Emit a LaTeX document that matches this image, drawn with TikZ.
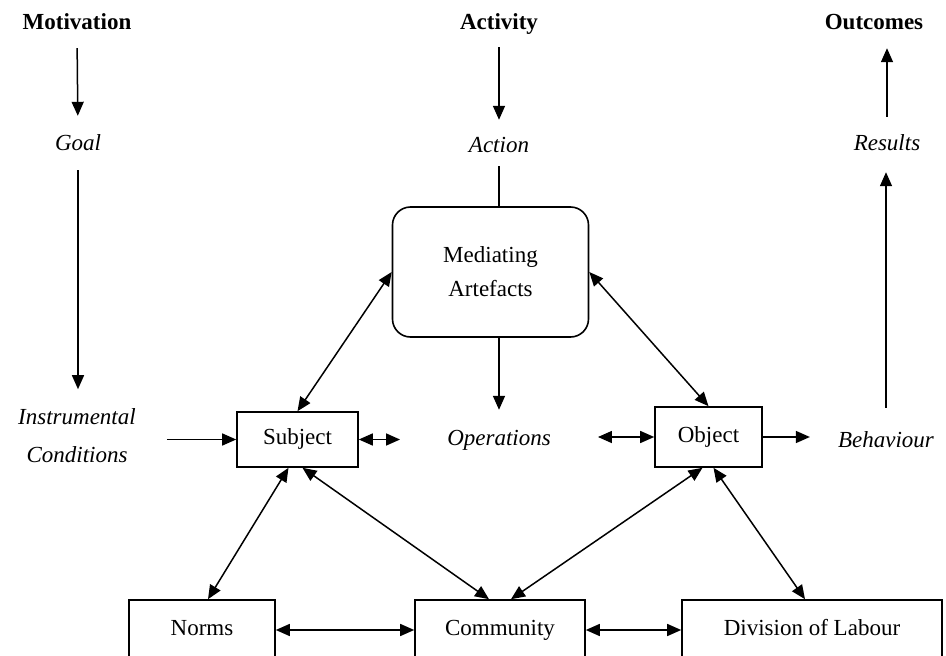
\documentclass[tikz,border=0pt]{standalone}
\usepackage{fontspec}
\setmainfont{Liberation Serif}
\usetikzlibrary{arrows.meta}
\begin{document}
\begin{tikzpicture}[x=1pt,y=-1pt,
  every node/.style={font=\fontsize{23}{34}\selectfont},
  lbl/.style={inner sep=0pt, text height=15pt, text depth=5pt},
  head/.style={lbl, font=\fontsize{23}{34}\selectfont\bfseries},
  itl/.style={lbl, font=\fontsize{23}{34}\selectfont\itshape},
  boxnode/.style={draw, line width=1.6pt, inner sep=0pt},
  boxtext/.style={boxnode, text height=15pt, text depth=5pt},
  tip/.tip={Triangle[length=14pt,width=12pt]},
  conn/.style={line width=1.5pt, -tip},
  dconn/.style={line width=1.5pt, tip-tip},
  plainline/.style={line width=1.5pt}]
\clip (0,0) rectangle (946,656);
% headings
\node[head] (motivation) at (77,24) {Motivation};
\node[head] (activity) at (499,24) {Activity};
\node[head] (outcomes) at (874,24) {Outcomes};
% italic labels
\node[itl] (goal) at (78,145) {Goal};
\node[itl] (action) at (499,147) {Action};
\node[itl] (results) at (887,145) {Results};
\node[inner sep=0pt, align=center, font=\fontsize{23}{38}\selectfont\itshape] (instr) at (77,436) {Instrumental\\Conditions};
\node[itl] (ops) at (499,440) {Operations};
\node[itl] (behaviour) at (886,442) {Behaviour};
% boxes
\node[boxnode, minimum width=196pt, minimum height=130pt, rounded corners=18pt, align=center] (med) at (490.5,272) {Mediating\\Artefacts};
\node[boxtext, minimum width=121pt, minimum height=55pt] (subj) at (297.5,439.5) {Subject};
\node[boxtext, minimum width=107pt, minimum height=60pt] (obj) at (708.5,437) {Object};
\node[boxtext, minimum width=146pt, minimum height=60pt] (norms) at (202,630) {Norms};
\node[boxtext, minimum width=170pt, minimum height=60pt] (comm) at (500,630) {Community};
\node[boxtext, minimum width=260pt, minimum height=60pt] (div) at (812,630) {Division of Labour};
% vertical connectors
\draw[conn, shorten <=14pt, shorten >=19pt] (motivation.south) -- (goal.north);
\draw[conn, shorten <=15pt, shorten >=19.5pt] (goal.south) -- (goal.south |- instr.north);
\draw[conn, shorten <=13pt, shorten >=17pt] (activity.south) -- (action.north);
\draw[plainline, shorten <=9pt] (action.south) -- (action.south |- med.north);
\draw[conn, shorten >=20pt] (ops.north |- med.south) -- (ops.north);
\draw[conn, shorten <=24pt, shorten >=17pt] (behaviour.north) -- (behaviour.north |- results.south);
\draw[conn, shorten <=18pt, shorten >=14pt] (results.north) -- (results.north |- outcomes.south);
% horizontal connectors
\draw[conn, shorten <=31pt] (instr.east |- subj.west) -- (subj.west);
\draw[dconn, shorten >=47pt] (subj.east) -- (subj.east -| ops.west);
\draw[dconn, shorten <=47pt] (ops.east |- obj.west) -- (obj.west);
\draw[conn, shorten >=28pt] (obj.east) -- (obj.east -| behaviour.west);
\draw[dconn] (norms) -- (comm);
\draw[dconn] (comm) -- (div);
% diagonals
\draw[dconn] (med.west) -- (subj.north);
\draw[dconn] (med.east) -- (obj.north);
\draw[dconn] ([xshift=-9pt]subj.south) -- ([xshift=6pt]norms.north);
\draw[dconn] ([xshift=5pt]subj.south) -- ([xshift=-11pt]comm.north);
\draw[dconn] ([xshift=-6pt]obj.south) -- ([xshift=11pt]comm.north);
\draw[dconn] ([xshift=5pt]obj.south) -- ([xshift=-7pt]div.north);
\end{tikzpicture}
\end{document}
